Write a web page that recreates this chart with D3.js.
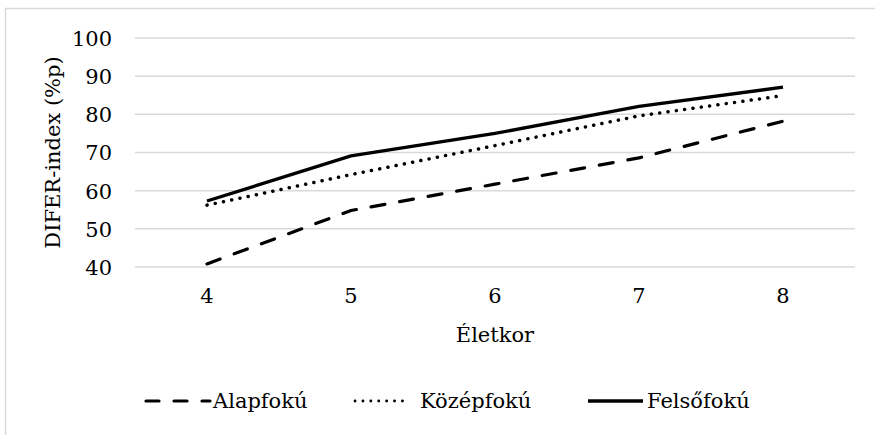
<!DOCTYPE html>
<html>
<head>
<meta charset="utf-8">
<script src="https://cdn.jsdelivr.net/npm/d3@7"></script>
<style>
  html, body { margin: 0; padding: 0; background: #fff; }
  svg text { font-family: "DejaVu Serif", "Liberation Serif", serif; fill: #000; }
</style>
</head>
<body>
<svg id="chart" width="875" height="435"></svg>
<script>
// Age groups (x categories)
const ages = ["4", "5", "6", "7", "8"];
// DIFER-index by mother's education level
const alapfoku = [40.8, 54.8, 61.7, 68.6, 78.2];
const kozepfoku = [56.2, 64.2, 71.8, 79.6, 84.9];
const felsofoku = [57.3, 69.1, 75.0, 82.1, 87.1];
const yTicks = [40, 50, 60, 70, 80, 90, 100];

const seriesNames = ["Alapfokú", "Középfokú", "Felsőfokú"];
const seriesValues = [alapfoku, kozepfoku, felsofoku];

const FONT = 21;
const svg = d3.select("#chart");

// outer chart frame
svg.append("rect")
  .attr("x", 5.5).attr("y", 8.5)
  .attr("width", 900).attr("height", 500)
  .attr("fill", "none").attr("stroke", "#d9d9d9").attr("stroke-width", 1.5);

const plot = { left: 135, right: 855, top: 38, bottom: 267 };

const x = d3.scaleBand().domain(ages).range([plot.left, plot.right]);
const y = d3.scaleLinear().domain([40, 100]).range([plot.bottom, plot.top]);

// horizontal gridlines
svg.append("g")
  .selectAll("line").data(yTicks).join("line")
  .attr("x1", plot.left).attr("x2", plot.right)
  .attr("y1", d => y(d)).attr("y2", d => y(d))
  .attr("stroke", "#d9d9d9").attr("stroke-width", 1.5);

// y axis labels
const yAxis = svg.append("g")
  .attr("transform", `translate(${plot.left - 23},0)`)
  .call(d3.axisLeft(y).tickValues(yTicks).tickSize(0).tickPadding(0));
yAxis.select(".domain").remove();
yAxis.selectAll("text")
  .attr("font-size", FONT).attr("font-family", "DejaVu Serif")
  .attr("dy", "0.35em");

// x axis labels
const xAxis = svg.append("g")
  .attr("transform", `translate(0,${plot.bottom + 21})`)
  .call(d3.axisBottom(x).tickSize(0).tickPadding(0));
xAxis.select(".domain").remove();
xAxis.selectAll("text")
  .attr("font-size", FONT).attr("font-family", "DejaVu Serif")
  .attr("dy", "0.71em");

// axis titles
svg.append("text")
  .attr("x", (plot.left + plot.right) / 2).attr("y", 335)
  .attr("dy", "0.35em")
  .attr("text-anchor", "middle").attr("font-size", FONT)
  .text("Életkor");

svg.append("text")
  .attr("transform", `translate(53,${(plot.top + plot.bottom) / 2}) rotate(-90)`)
  .attr("dy", "0.35em")
  .attr("text-anchor", "middle").attr("font-size", FONT)
  .text("DIFER-index (%p)");

// series lines
const line = d3.line()
  .x((d, i) => x(ages[i]) + x.bandwidth() / 2)
  .y(d => y(d));

const styles = [
  { width: 3.2, cap: "round", dash: "14,15" },
  { width: 3.5, cap: "round", dash: "0.1,8.3" },
  { width: 3.3, cap: "butt", dash: null }
];

seriesValues.forEach((vals, k) => {
  svg.append("path")
    .datum(vals)
    .attr("d", line)
    .attr("fill", "none")
    .attr("stroke", "#000")
    .attr("stroke-width", styles[k].width)
    .attr("stroke-linecap", styles[k].cap)
    .attr("stroke-linejoin", "round")
    .attr("stroke-dasharray", styles[k].dash);
});

// legend
const legendY = 401;
const legendItems = [
  { x1: 146, x2: 210, tx: 213, dash: "13,15", w: 3.2 },
  { x1: 355, x2: 408, tx: 420, dash: "0.1,7.8", w: 2.8 },
  { x1: 588, x2: 643, tx: 647, dash: null, w: 3.3 }
];
legendItems.forEach((it, k) => {
  svg.append("line")
    .attr("x1", it.x1).attr("x2", it.x2)
    .attr("y1", legendY).attr("y2", legendY)
    .attr("stroke", "#000")
    .attr("stroke-width", it.w)
    .attr("stroke-linecap", k === 2 ? "butt" : "round")
    .attr("stroke-dasharray", it.dash);
  svg.append("text")
    .attr("x", it.tx).attr("y", legendY)
    .attr("dy", "0.35em").attr("font-size", FONT)
    .text(seriesNames[k]);
});
</script>
</body>
</html>
